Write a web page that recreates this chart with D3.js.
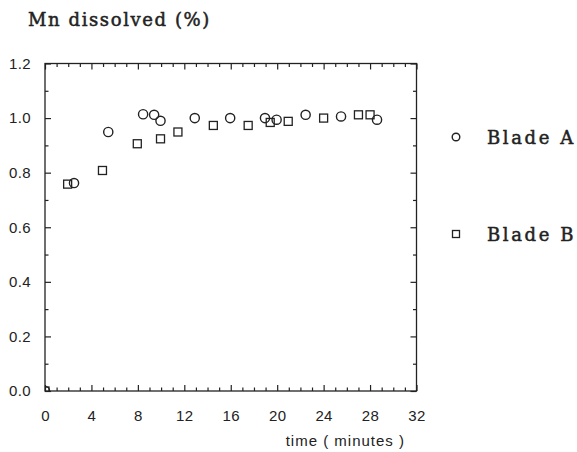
<!DOCTYPE html>
<html>
<head>
<meta charset="utf-8">
<script src="https://cdn.jsdelivr.net/npm/d3@7"></script>
<style>
  body { margin: 0; background: #fff; }
  .tick text { font-family: "Liberation Sans", Arial, sans-serif; font-size: 15px; fill: #222; letter-spacing: 0.4px; }
  .domain { display: none; }
  .tick line { stroke: #222; stroke-width: 1.2; }
</style>
</head>
<body>
<div id="container"></div>
<script>
// data
var timeA = [0, 2.5, 5.45, 8.45, 9.4, 9.95, 12.9, 15.95, 18.95, 19.95, 22.45, 25.5, 28.6];
var mnA   = [0, 0.762, 0.949, 1.014, 1.012, 0.99, 1.0, 1.0, 1.0, 0.994, 1.012, 1.006, 0.994];
var timeB = [0, 1.95, 4.95, 7.95, 9.95, 11.45, 14.5, 17.5, 19.4, 20.95, 24.0, 27.0, 28.0];
var mnB   = [0, 0.758, 0.808, 0.906, 0.924, 0.949, 0.973, 0.973, 0.984, 0.988, 1.0, 1.012, 1.012];
var xTicks = [0, 4, 8, 12, 16, 20, 24, 28, 32];
var yTicks = [0, 0.2, 0.4, 0.6, 0.8, 1.0, 1.2];
var seriesNames = ['Blade A', 'Blade B'];

(function() {
    var W = 577, H = 452;
    var pL = 45, pR = 416.5, pT = 63.5, pB = 391;
    var ink = '#222';
    var slab = '"DejaVu Serif", "Liberation Serif", serif';

    var svg = d3.select('#container').append('svg')
        .attr('width', W).attr('height', H);

    var x = d3.scaleLinear().domain([0, 32]).range([pL, pR]);
    var y = d3.scaleLinear().domain([0, 1.2]).range([pB, pT]);

    var xMinor = d3.range(0, 33, 1).filter(function(v) { return v % 4 !== 0; });
    var yMinor = d3.range(1, 12, 2).map(function(v) { return v / 10; });

    // frame
    svg.append('rect')
        .attr('x', pL).attr('y', pT)
        .attr('width', pR - pL).attr('height', pB - pT)
        .attr('fill', 'none').attr('stroke', ink).attr('stroke-width', 1.3);

    // ticks pointing inwards on all four sides
    function addAxis(axis, tx, ty) {
        svg.append('g').attr('transform', 'translate(' + tx + ',' + ty + ')').call(axis);
    }
    addAxis(d3.axisBottom(x).tickValues(xTicks).tickSizeInner(-6).tickSizeOuter(0).tickPadding(19).tickFormat(d3.format('d')), 0, pB);
    addAxis(d3.axisBottom(x).tickValues(xMinor).tickSizeInner(-3.5).tickSizeOuter(0).tickFormat(''), 0, pB);
    addAxis(d3.axisTop(x).tickValues(xTicks).tickSizeInner(-6).tickSizeOuter(0).tickFormat(''), 0, pT);
    addAxis(d3.axisTop(x).tickValues(xMinor).tickSizeInner(-3.5).tickSizeOuter(0).tickFormat(''), 0, pT);
    addAxis(d3.axisLeft(y).tickValues(yTicks).tickSizeInner(-6).tickSizeOuter(0).tickPadding(14).tickFormat(d3.format('.1f')), pL, 0);
    addAxis(d3.axisLeft(y).tickValues(yMinor).tickSizeInner(-3.5).tickSizeOuter(0).tickFormat(''), pL, 0);
    addAxis(d3.axisRight(y).tickValues(yTicks).tickSizeInner(-6).tickSizeOuter(0).tickFormat(''), pR, 0);
    addAxis(d3.axisRight(y).tickValues(yMinor).tickSizeInner(-3.5).tickSizeOuter(0).tickFormat(''), pR, 0);

    // clip so the origin points show only partly, as in the original
    svg.append('clipPath').attr('id', 'plotClip').append('rect')
        .attr('x', pL).attr('y', pT).attr('width', pR - pL).attr('height', pB - pT);

    var plot = svg.append('g').attr('clip-path', 'url(#plotClip)');

    var dataA = timeA.map(function(t, i) { return {t: t, v: mnA[i]}; });
    var dataB = timeB.map(function(t, i) { return {t: t, v: mnB[i]}; });

    plot.selectAll('.sq').data(dataB).enter().append('rect')
        .attr('class', 'sq')
        .attr('x', function(d) { return x(d.t) - 4; })
        .attr('y', function(d) { return y(d.v) - 4; })
        .attr('width', 8).attr('height', 8)
        .attr('fill', 'none').attr('stroke', ink).attr('stroke-width', 1.3);

    plot.selectAll('.ci').data(dataA).enter().append('circle')
        .attr('class', 'ci')
        .attr('cx', function(d) { return x(d.t); })
        .attr('cy', function(d) { return y(d.v); })
        .attr('r', 4.6)
        .attr('fill', 'none').attr('stroke', ink).attr('stroke-width', 1.4);

    // title and axis title
    svg.append('text')
        .attr('x', 28).attr('y', 26)
        .style('font-family', slab)
        .style('font-size', '18px')
        .style('letter-spacing', '1.6px')
        .attr('fill', ink).attr('stroke', ink).attr('stroke-width', 0.5)
        .text('Mn dissolved (%)');

    svg.append('text')
        .attr('x', 405).attr('y', 446)
        .attr('text-anchor', 'end')
        .style('font-family', '"Liberation Sans", Arial, sans-serif')
        .style('font-size', '15px').style('letter-spacing', '1px')
        .attr('fill', ink)
        .text('time ( minutes )');

    // legend
    var legendY = [137, 234];
    var leg = svg.selectAll('.leg').data(seriesNames).enter().append('g')
        .attr('class', 'leg')
        .attr('transform', function(d, i) { return 'translate(456,' + legendY[i] + ')'; });

    leg.filter(function(d, i) { return i === 0; }).append('circle')
        .attr('r', 3.8).attr('fill', 'none').attr('stroke', ink).attr('stroke-width', 1.4);
    leg.filter(function(d, i) { return i === 1; }).append('rect')
        .attr('x', -3.5).attr('y', -3.5).attr('width', 7).attr('height', 7)
        .attr('fill', 'none').attr('stroke', ink).attr('stroke-width', 1.3);

    leg.append('text')
        .attr('x', 31).attr('y', 7)
        .style('font-family', slab)
        .style('font-size', '18px')
        .style('letter-spacing', '2.6px')
        .attr('fill', ink).attr('stroke', ink).attr('stroke-width', 0.5)
        .text(function(d) { return d; });
})();
</script>
</body>
</html>
